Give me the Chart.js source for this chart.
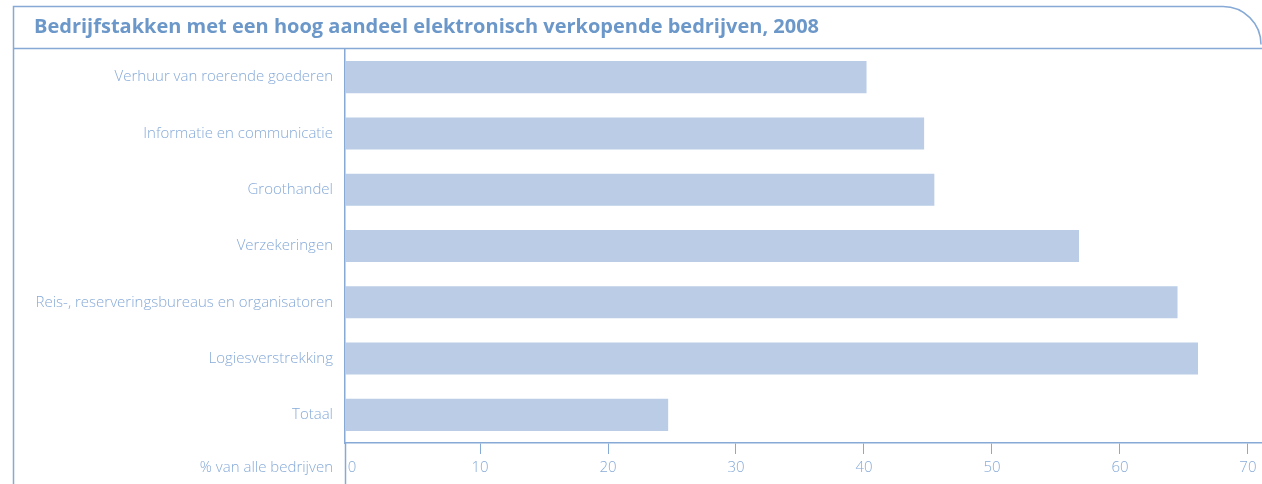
<!DOCTYPE html>
<html>
<head>
<meta charset="utf-8">
<script src="https://cdn.jsdelivr.net/npm/chart.js@4/dist/chart.umd.min.js"></script>
<style>
  html, body { margin: 0; padding: 0; background: #fff; }
  #wrap { width: 1262px; height: 484px; position: relative; }
</style>
</head>
<body>
<div id="wrap"><canvas id="grafica"></canvas></div>
<script>
const categories = ['Verhuur van roerende goederen', 'Informatie en communicatie', 'Groothandel', 'Verzekeringen', 'Reis-, reserveringsbureaus en organisatoren', 'Logiesverstrekking', 'Totaal']
const values = [40.2, 44.7, 45.5, 56.8, 64.5, 66.1, 24.7]
const tickValues = [0, 10, 20, 30, 40, 50, 60, 70]
const title = 'Bedrijfstakken met een hoog aandeel elektronisch verkopende bedrijven, 2008'
const axisTitle = '% van alle bedrijven'

const lineColor = '#86a9d6'
const textColor = '#86aad8'

// frame, header and the extra text round the chart
const frame = {
    id: 'frame',
    afterDraw(chart) {
        const ctx = chart.ctx
        const yScale = chart.scales.y
        ctx.save()
        ctx.strokeStyle = lineColor
        ctx.lineWidth = 1.5
        ctx.beginPath()
        ctx.moveTo(13.5, 484)
        ctx.lineTo(13.5, 6.5)
        ctx.lineTo(1222, 6.5)
        ctx.arcTo(1261, 6.5, 1261, 46, 38)
        ctx.stroke()
        ctx.beginPath()
        ctx.moveTo(13.5, 48.5)
        ctx.lineTo(1262, 48.5)
        ctx.stroke()
        // y axis runs on below the x axis
        ctx.beginPath()
        ctx.moveTo(yScale.right + 0.5, chart.chartArea.bottom)
        ctx.lineTo(yScale.right + 0.5, 484)
        ctx.stroke()

        ctx.fillStyle = '#6b97c9'
        ctx.font = 'bold 20px "Open Sans"'
        ctx.textBaseline = 'middle'
        ctx.textAlign = 'left'
        ctx.fillText(title, 34, 27)

        ctx.fillStyle = textColor
        ctx.font = '300 15px "Open Sans"'
        ctx.textAlign = 'right'
        ctx.fillText(axisTitle, 333, 468)
        ctx.restore()
    }
}

const data = {
    labels: categories,
    datasets: [{
        data: values,
        base: -0.55,
        backgroundColor: '#bacce6',
        barPercentage: 0.57,
        categoryPercentage: 1
    }]
}

const config = {
    type: 'bar',
    data: data,
    options: {
        indexAxis: 'y',
        responsive: true,
        maintainAspectRatio: false,
        animation: false,
        layout: { padding: { top: 49, left: 0, right: 0, bottom: 0 } },
        plugins: {
            legend: { display: false },
            tooltip: { enabled: false }
        },
        scales: {
            x: {
                min: -0.55,
                max: 71.1,
                afterBuildTicks(scale) {
                    scale.ticks = tickValues.map(v => ({ value: v }))
                },
                afterFit(scale) { scale.height = 41 },
                grid: {
                    drawOnChartArea: false,
                    drawTicks: true,
                    tickLength: 11,
                    color: c => c.tick && c.tick.value === 0 ? 'rgba(0,0,0,0)' : lineColor,
                    lineWidth: 1
                },
                border: { color: lineColor, width: 1.5 },
                ticks: {
                    color: textColor,
                    font: { family: 'Open Sans', size: 15, weight: 300 },
                    padding: 5,
                    maxRotation: 0
                }
            },
            y: {
                afterFit(scale) { scale.width = 345 },
                grid: { display: false },
                border: { color: lineColor, width: 1.5 },
                ticks: {
                    color: textColor,
                    font: { family: 'Open Sans', size: 15, weight: 300 },
                    padding: 4
                }
            }
        }
    },
    plugins: [frame]
}

new Chart(document.querySelector('#grafica'), config)
</script>
</body>
</html>
